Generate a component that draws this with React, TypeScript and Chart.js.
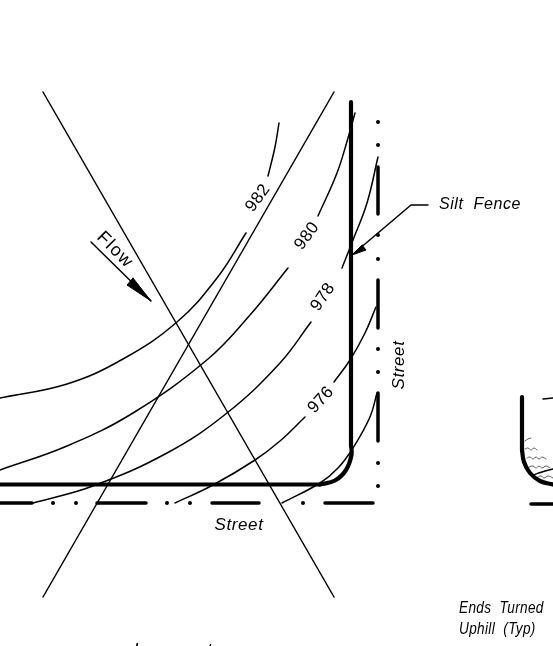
import React, { useEffect, useRef } from "react";
import { Chart, registerables } from "chart.js";

Chart.register(...registerables);

type P = { x: number; y: number };
const pts = (a: number[][]): P[] => a.map(([x, y]) => ({ x, y }));

const crossA = [[43, 92], [334, 597]];
const crossB = [[334, 92], [43, 597]];
const fenceTop = [[351, 102], [351, 445]];
const fenceCurve = [[351, 445], [351.5, 455], [346, 470], [335, 480.5], [320, 484.5]];
const fenceBottom = [[320, 484.5], [0, 484.5]];
const uFenceTop = [[522, 397], [522, 450]];
const uFenceCurve = [[522, 450], [524, 462], [530, 473], [540, 481], [553, 484.5]];

const c982a = [[0, 398], [67, 384], [123, 359], [177, 322], [217, 278], [246, 233]];
const c982b = [[268, 176], [275, 147], [279, 123]];
const c980a = [[0, 470], [67, 446], [133, 413], [208, 359], [250, 315], [288, 268]];
const c980b = [[318, 216], [337, 173], [348, 138], [355, 113]];
const c978a = [[33, 503], [93, 486], [167, 453], [227, 413], [280, 363], [311, 322]];
const c978b = [[342, 268], [353, 240], [367, 203], [378, 157]];
const c976a = [[175, 503], [213, 485], [255, 460], [280, 441], [305, 417]];
const c976b = [[334, 382], [350, 360], [365, 333], [376, 307]];
const c974 = [[282, 503], [320, 483], [338, 468], [353, 448], [370, 417], [377, 393]];

const streetH = [[0, 32], [97, 146], [212, 259], [325, 373]];
const streetHDots = [53, 76, 167, 190, 303];
const streetV = [[167, 214], [280, 328], [393, 441]];
const streetVDots = [122, 145, 235, 259, 349, 372, 463, 486];
const streetRight = [[531, 553]];

const flowLeader = [[91, 242], [151, 301]];
const flowHead = [[133, 278], [127, 285], [151, 301]];
const siltLeader = [[428, 205], [411, 205], [352, 255]];
const siltHead = [[362, 245], [366, 250], [352, 255]];
const uTop = [[543, 399], [553, 398]];
const uContour = [[533, 475], [542, 472], [553, 469]];
const ripples = [
  [[525, 441], [528, 439], [531, 438]],
  [[525, 449], [528, 448], [531, 450], [534, 448], [537, 450]],
  [[527, 458], [530, 457], [533, 459], [536, 457], [539, 459], [542, 457], [546, 459]],
  [[529, 467], [533, 466], [536, 468], [539, 466], [542, 468], [546, 466], [550, 468]],
  [[538, 477], [541, 476], [544, 478], [548, 476], [553, 478]],
];

// text, x, y, rotation, font size, italic, horizontal scale, letter spacing, align
const labels: [string, number, number, number, number, boolean, number, number, string][] = [
  ["982", 258, 198, -54, 17, false, 1, 0.4, "center"],
  ["980", 307, 236, -54, 17, false, 1, 0.4, "center"],
  ["978", 323, 297, -56, 17, false, 1, 0.4, "center"],
  ["976", 321, 400, -48, 17, false, 1, 0.4, "center"],
  ["Flow", 115, 250, 45, 18, false, 1, 1.5, "center"],
  ["Silt  Fence", 480, 205, 0, 16, true, 1, 0.6, "center"],
  ["Street", 239, 525, 0, 17, true, 1, 0.6, "center"],
  ["Street", 399, 365, -90, 17, true, 1, 0.6, "center"],
  ["Ends  Turned", 459, 609, 0, 16, true, 0.85, 0.4, "left"],
  ["Uphill  (Typ)", 459, 630, 0, 16, true, 0.85, 0.4, "left"],
  ["Incorrect", 173, 651, 0, 19, true, 1, 0.6, "center"],
];

const line = (data: number[][], w = 1.5, color = "#000", tension = 0.4, fill: any = false) => ({
  type: "line" as const,
  data: pts(data),
  borderColor: color,
  backgroundColor: color,
  borderWidth: w,
  pointRadius: 0,
  tension,
  fill,
  borderCapStyle: "round" as const,
  borderJoinStyle: "round" as const,
});

const dots = (data: number[][]) => ({
  type: "scatter" as const,
  data: pts(data),
  pointRadius: 2,
  pointBackgroundColor: "#000",
  pointBorderWidth: 0,
  showLine: false,
});

const textPlugin = {
  id: "drawingText",
  afterDatasetsDraw(chart: any) {
    const { ctx, scales } = chart;
    labels.forEach(([t, x, y, rot, size, italic, sx, sp, align]) => {
      ctx.save();
      ctx.translate(scales.x.getPixelForValue(x), scales.y.getPixelForValue(y));
      ctx.rotate((rot * Math.PI) / 180);
      ctx.scale(sx, 1);
      ctx.font = `${italic ? "italic " : ""}${size}px "Liberation Sans"`;
      ctx.fillStyle = "#000";
      ctx.textAlign = align;
      ctx.textBaseline = "middle";
      ctx.letterSpacing = `${sp}px`;
      ctx.fillText(t, 0, 0);
      ctx.restore();
    });
  },
};

export default function App() {
  const ref = useRef<HTMLCanvasElement>(null);
  useEffect(() => {
    document.body.style.margin = "0";
    const datasets: any[] = [
      line(crossA),
      line(crossB),
      ...[c982a, c982b, c980a, c980b, c978a, c978b, c976a, c976b, c974].map((c) => line(c)),
      line(fenceTop, 4.2, "#000", 0),
      line(fenceCurve, 4.2),
      line(fenceBottom, 4.2, "#000", 0),
      line(uFenceTop, 4.2, "#000", 0),
      line(uFenceCurve, 4.2),
      ...streetH.map(([a, b]) => line([[a, 503], [b, 503]], 3.5, "#000", 0)),
      ...streetRight.map(([a, b]) => line([[a, 504], [b, 504]], 3.5, "#000", 0)),
      ...streetV.map(([a, b]) => line([[378, a], [378, b]], 3.5, "#000", 0)),
      dots(streetHDots.map((x) => [x, 503])),
      dots(streetVDots.map((y) => [378, y])),
      line(flowLeader),
      line([...flowHead, flowHead[0]], 1, "#000", 0, "shape"),
      line(siltLeader, 1.5, "#000", 0),
      line([...siltHead, siltHead[0]], 1, "#000", 0, "shape"),
      line(uTop),
      line(uContour),
      ...ripples.map((r) => line(r, 0.8, "#333")),
    ];
    const chart = new Chart(ref.current!, {
      type: "scatter",
      data: { datasets },
      options: {
        animation: false,
        responsive: false,
        layout: { padding: 0, autoPadding: false },
        plugins: { legend: { display: false }, tooltip: { enabled: false } },
        scales: {
          x: { type: "linear", min: 0, max: 553, display: false },
          y: { type: "linear", min: 0, max: 646, reverse: true, display: false },
        },
      },
      plugins: [textPlugin],
    });
    return () => chart.destroy();
  }, []);
  return <canvas ref={ref} width={553} height={646} style={{ display: "block" }} />;
}
